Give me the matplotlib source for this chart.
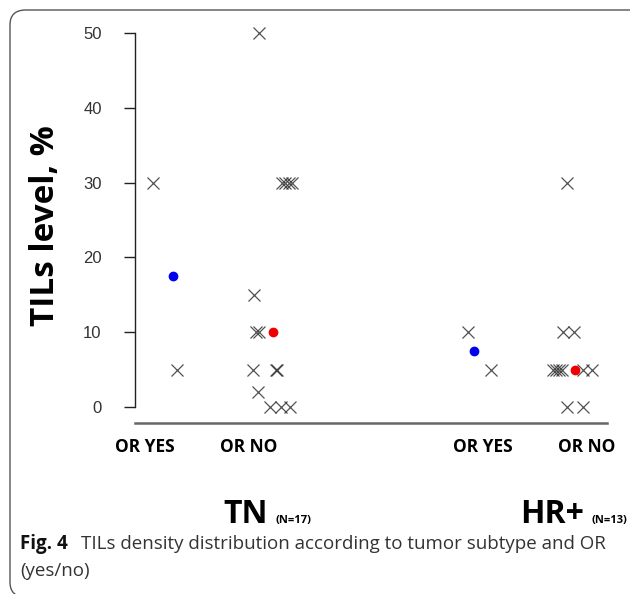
import matplotlib.pyplot as plt
from matplotlib.patches import FancyBboxPatch

# TILs values and jittered x positions per group (group centres: 1, 2, 4.25, 5.25)
tn_yes_x = [1.08, 1.31]
tn_yes_y = [30, 5]
tn_no_x = [2.10, 2.32, 2.35, 2.38, 2.41, 2.05, 2.07, 2.10, 2.04, 2.26, 2.27, 2.09, 2.20, 2.31, 2.39]
tn_no_y = [50, 30, 30, 30, 30, 15, 10, 10, 5, 5, 5, 2, 0, 0, 0]
hr_yes_x = [4.11, 4.33]
hr_yes_y = [10, 5]
hr_no_x = [5.06, 5.02, 5.12, 4.92, 4.95, 4.98, 5.01, 5.21, 5.30, 5.06, 5.21]
hr_no_y = [30, 10, 10, 5, 5, 5, 5, 5, 5, 0, 0]

# medians
med_x = [1.27, 2.23, 4.16, 5.13]
med_y = [17.5, 10, 7.5, 5]
med_col = ['#0000ee', '#ee0000', '#0000ee', '#ee0000']

group_pos = [1, 2, 4.25, 5.25]
group_lab = ['OR YES', 'OR NO', 'OR YES', 'OR NO']
yticks = [0, 10, 20, 30, 40, 50]

fig = plt.figure(figsize=(6.3, 5.94), dpi=100)
ax = fig.add_axes([0.2143, 0.2879, 0.7492, 0.6700])

for xs, ys in [(tn_yes_x, tn_yes_y), (tn_no_x, tn_no_y),
               (hr_yes_x, hr_yes_y), (hr_no_x, hr_no_y)]:
    ax.plot(xs, ys, linestyle='none', marker='x', color='#333333',
            markersize=8, markeredgewidth=0.9, alpha=0.85)

for x, y, c in zip(med_x, med_y, med_col):
    ax.plot(x, y, linestyle='none', marker='o', color=c, markersize=6)

ax.set_xlim(0.904, 5.442)
ax.set_ylim(-2.14, 51.07)

for s in ['top', 'right']:
    ax.spines[s].set_visible(False)
ax.spines['left'].set_bounds(0, 50)
ax.spines['left'].set_linewidth(1.0)
ax.spines['left'].set_color('#222222')
ax.spines['bottom'].set_linewidth(1.8)
ax.spines['bottom'].set_color('#666666')

ax.set_yticks(yticks)
ax.set_yticklabels([str(t) for t in yticks], family='Liberation Sans',
                   fontsize=12, color='#333333')
ax.tick_params(axis='y', length=8, width=1.0, color='#222222', pad=16)
ax.set_xticks(group_pos)
ax.set_xticklabels(group_lab, family='Open Sans', fontweight='bold', fontsize=12.5)
ax.tick_params(axis='x', length=0, pad=11)

fig.text(46 / 630, 1 - 226 / 594, 'TILs level, %', rotation=90, ha='center',
         va='center', family='Open Sans', fontweight='bold', fontsize=24)

# subtype labels
fig.text(268 / 630, 1 - 523 / 594, 'TN', ha='right', va='baseline',
         family='Open Sans', fontweight='bold', fontsize=23)
fig.text(275 / 630, 1 - 523 / 594, '(N=17)', ha='left', va='baseline',
         family='Open Sans', fontweight='bold', fontsize=8)
fig.text(584 / 630, 1 - 523 / 594, 'HR+', ha='right', va='baseline',
         family='Open Sans', fontweight='bold', fontsize=23)
fig.text(591 / 630, 1 - 523 / 594, '(N=13)', ha='left', va='baseline',
         family='Open Sans', fontweight='bold', fontsize=8)

# caption
fig.text(20 / 630, 1 - 549 / 594, 'Fig. 4', ha='left', va='baseline',
         family='Open Sans', fontweight='bold', fontsize=13.5, color='#111111')
fig.text(81 / 630, 1 - 549 / 594,
         'TILs density distribution according to tumor subtype and OR',
         ha='left', va='baseline', family='Open Sans', fontsize=13.5,
         color='#333333')
fig.text(20 / 630, 1 - 576 / 594, '(yes/no)', ha='left', va='baseline',
         family='Open Sans', fontsize=13.5, color='#333333')

# rounded frame around the figure (top and left edges visible)
frame = FancyBboxPatch((10 / 630, -3 / 594), 660 / 630 - 10 / 630,
                       (594 - 10 + 3) / 594,
                       boxstyle='round,pad=0,rounding_size=0.025',
                       transform=fig.transFigure, fill=False,
                       edgecolor='#555555', linewidth=1.0)
fig.patches.append(frame)

fig.savefig('out.png', dpi=100)
